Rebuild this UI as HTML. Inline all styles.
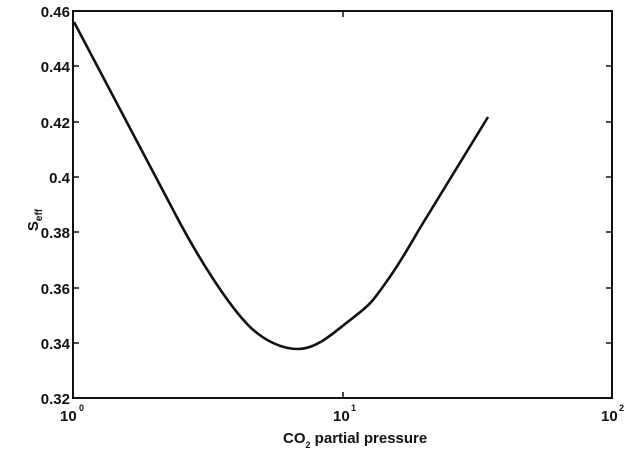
<!DOCTYPE html>
<html><head><style>
body{margin:0;background:#fff;}
text{font-family:"Liberation Sans",sans-serif;font-weight:bold;fill:#111;}
</style></head><body>
<svg width="630" height="458" viewBox="0 0 630 458" xmlns="http://www.w3.org/2000/svg">
<rect x="73" y="11" width="539" height="387" fill="none" stroke="#111" stroke-width="2"/>
<g stroke="#111" stroke-width="1.5">
<line x1="73" y1="66" x2="79" y2="66"/><line x1="73" y1="122" x2="79" y2="122"/><line x1="73" y1="177" x2="79" y2="177"/><line x1="73" y1="232" x2="79" y2="232"/><line x1="73" y1="288" x2="79" y2="288"/><line x1="73" y1="343" x2="79" y2="343"/>
<line x1="606" y1="66" x2="612" y2="66"/><line x1="606" y1="122" x2="612" y2="122"/><line x1="606" y1="177" x2="612" y2="177"/><line x1="606" y1="232" x2="612" y2="232"/><line x1="606" y1="288" x2="612" y2="288"/><line x1="606" y1="343" x2="612" y2="343"/>
<line x1="343" y1="398" x2="343" y2="392"/><line x1="343" y1="11" x2="343" y2="17"/>
</g>
<g font-size="15" text-anchor="end">
<text x="70" y="17">0.46</text><text x="70" y="72">0.44</text><text x="70" y="128">0.42</text><text x="70" y="183">0.4</text><text x="70" y="238">0.38</text><text x="70" y="294">0.36</text><text x="70" y="349">0.34</text><text x="70" y="404">0.32</text>
</g>
<g font-size="15">
<text x="60" y="421">10</text><text x="79" y="411" font-size="9">0</text>
<text x="333" y="421">10</text><text x="351" y="411" font-size="9">1</text>
<text x="601" y="421">10</text><text x="619" y="411" font-size="9">2</text>
<text x="283" y="443">CO<tspan font-size="9" dy="5">2</tspan><tspan dy="-5"> partial pressure</tspan></text>
</g>
<text transform="translate(38,220) rotate(-90)" font-size="15" text-anchor="middle">S<tspan font-size="10" dy="4">eff</tspan></text>
<path d="M74,22 L180,223 C200,260 228,305 250,327 C265,341 282,349 298,349 C315,349 330,336 345,324 C358,314 366,308 373,300 C395,272 410,245 420,228 L488,117" fill="none" stroke="#111" stroke-width="2.6"/>
</svg>
</body></html>
